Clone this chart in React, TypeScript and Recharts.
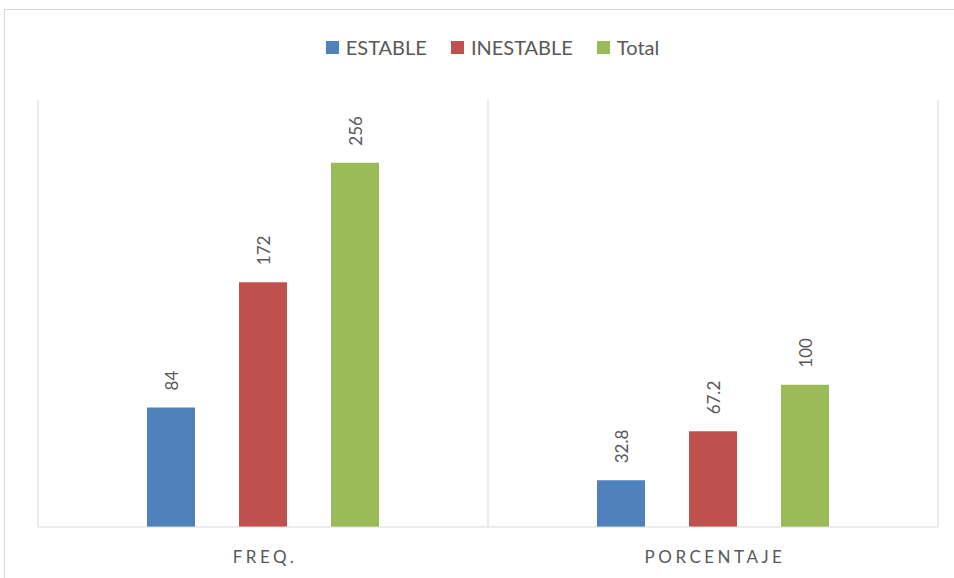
import React from "react";
import { BarChart, Bar, XAxis, YAxis, CartesianGrid, Legend } from "recharts";

const categories = ["FREQ.", "PORCENTAJE"];
const estable = [84, 32.8];
const inestable = [172, 67.2];
const total = [256, 100];
const seriesNames = ["ESTABLE", "INESTABLE", "Total"];
const colors = ["#4F81BD", "#C0504D", "#9BBB59"];

const data = categories.map((c, i) => ({
  name: c,
  ESTABLE: estable[i],
  INESTABLE: inestable[i],
  Total: total[i],
}));

const FONT = "Lato, 'Open Sans', sans-serif";
const TEXT = "#595959";

const RotLabel = (props: any) => {
  const { x, y, width, value } = props;
  const cx = Number(x) + Number(width) / 2 + 1;
  const cy = Number(y) - 17;
  return (
    <text
      x={cx}
      y={cy}
      transform={`rotate(-90, ${cx}, ${cy})`}
      textAnchor="start"
      dominantBaseline="central"
      fill={TEXT}
      fontSize={17}
      fontFamily={FONT}
    >
      {value}
    </text>
  );
};

const CatTick = (props: any) => {
  const { x, y, payload } = props;
  return (
    <text
      x={x + 2}
      y={y + 36}
      textAnchor="middle"
      fill={TEXT}
      fontSize={17}
      fontFamily={FONT}
      style={{ letterSpacing: "3.5px" }}
    >
      {payload.value}
    </text>
  );
};

const LegendContent = () => (
  <div
    style={{
      height: 100,
      width: "100%",
      boxSizing: "border-box",
      paddingTop: 35,
      paddingLeft: 9,
      display: "flex",
      justifyContent: "center",
      fontFamily: FONT,
      fontSize: 20,
      color: TEXT,
    }}
  >
    {seriesNames.map((n, i) => (
      <div key={n} style={{ display: "flex", alignItems: "center", marginRight: i < 2 ? 24 : 0, height: 24 }}>
        <span style={{ width: 13, height: 13, background: colors[i], display: "inline-block", marginRight: 7 }} />
        <span>{n}</span>
      </div>
    ))}
  </div>
);

export default function App() {
  return (
    <div style={{ position: "fixed", left: 0, top: 0, width: 954, height: 578, overflow: "hidden", background: "#fff" }}>
      <div
        style={{
          position: "absolute",
          left: 4,
          top: 9,
          width: 1000,
          height: 1000,
          border: "1px solid #d9d9d9",
        }}
      />
      <div style={{ position: "absolute", left: 0, top: 0 }}>
        <BarChart
          width={954}
          height={578}
          data={data}
          margin={{ top: 0, right: 16, bottom: 0, left: 38 }}
          barCategoryGap="24%"
          barGap={44}
          barSize={48}
        >
          <CartesianGrid
            horizontal={false}
            stroke="#d9d9d9"
            verticalCoordinatesGenerator={(p: any) => {
              const o = p.offset;
              return [o.left, o.left + o.width / 2, o.left + o.width];
            }}
          />
          <XAxis
            dataKey="name"
            height={51}
            axisLine={{ stroke: "#d9d9d9" }}
            tickLine={false}
            tickSize={0}
            tickMargin={0}
            tick={<CatTick />}
            interval={0}
          />
          <YAxis hide domain={[0, 300]} />
          <Legend verticalAlign="top" content={<LegendContent />} />
          {seriesNames.map((n, i) => (
            <Bar key={n} dataKey={n} fill={colors[i]} isAnimationActive={false} label={<RotLabel />} />
          ))}
        </BarChart>
      </div>
    </div>
  );
}
